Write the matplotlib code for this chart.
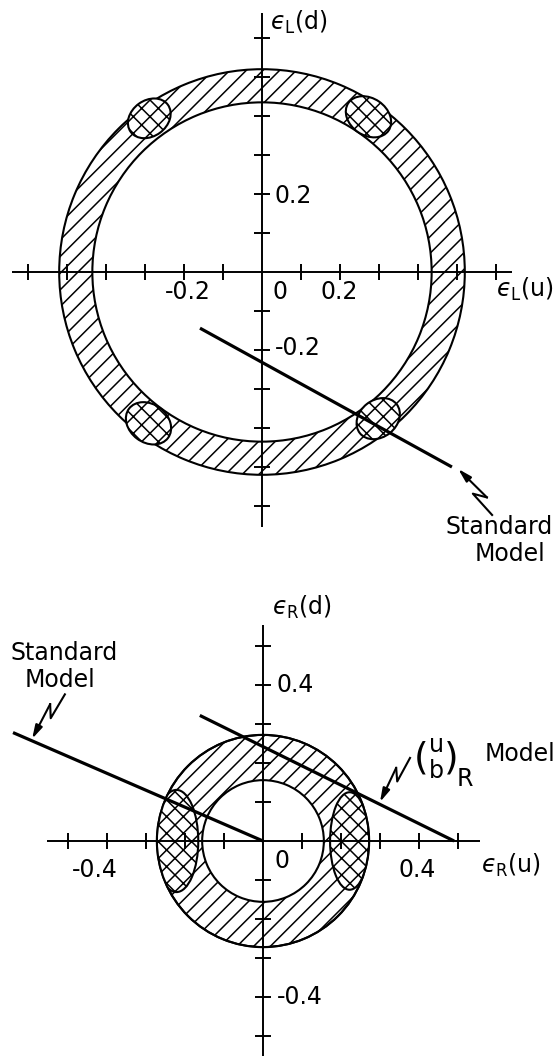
import numpy as np
import matplotlib
matplotlib.use('Agg')
import matplotlib.pyplot as plt
from matplotlib.patches import Wedge, Ellipse, Circle

plt.rcParams['font.family'] = ['DejaVu Sans']
plt.rcParams['mathtext.fontset'] = 'dejavusans'
plt.rcParams['hatch.linewidth'] = 1.1

# --- 上图: eps_L(u) / eps_L(d) ---
L_ring = [0.435, 0.52]                      # 内半径, 外半径
L_ticks_x = [-0.6, -0.5, -0.4, -0.3, -0.2, -0.1, 0.1, 0.2, 0.3, 0.4, 0.5, 0.6]
L_ticks_y = [-0.6, -0.5, -0.4, -0.3, -0.2, -0.1, 0.1, 0.2, 0.3, 0.4, 0.5, 0.6]
L_blob_x = [-0.289, 0.273, -0.291, 0.298]
L_blob_y = [0.394, 0.398, -0.388, -0.376]
L_blob_rad = [0.092, 0.095, 0.098, 0.095]   # 径向宽度
L_blob_tan = [0.118, 0.125, 0.125, 0.12]    # 切向长度
L_sm_x = [-0.159, 0.487]                    # Standard Model 直线
L_sm_y = [-0.144, -0.500]
L_xlabels = ['-0.2', '0', '0.2']
L_ylabels = ['0.2', '-0.2']

# --- 下图: eps_R(u) / eps_R(d) ---
R_ring = [0.156, 0.272]
R_ticks_x = [-0.5, -0.4, -0.3, -0.2, -0.1, 0.1, 0.2, 0.3, 0.4, 0.5]
R_ticks_y = [-0.5, -0.4, -0.3, -0.2, -0.1, 0.1, 0.2, 0.3, 0.4, 0.5]
R_blob_x = [-0.222, 0.222]
R_blob_y = [0.0, 0.0]
R_blob_w = [0.112, 0.100]
R_blob_h = [0.262, 0.250]
R_sm_x = [-0.641, 0.0]                      # Standard Model 直线
R_sm_y = [0.278, 0.0]
R_ub_x = [-0.162, 0.490]                    # (u b)_R Model 直线
R_ub_y = [0.322, 0.0]
R_xlabels = ['-0.4', '0', '0.4']
R_ylabels = ['0.4', '-0.4']

FS = 17
EPS = '\u03f5'   # 月牙形 epsilon


def draw_cross(ax, xext, yext, xt, yt):
    ax.plot(xext, [0, 0], color='k', lw=1.4, zorder=5, solid_capstyle='butt')
    ax.plot([0, 0], yext, color='k', lw=1.4, zorder=5, solid_capstyle='butt')
    ax.plot(xt, np.zeros(len(xt)), ls='none', marker='|', ms=12, mew=1.4, color='k', zorder=5)
    ax.plot(np.zeros(len(yt)), yt, ls='none', marker='_', ms=12, mew=1.4, color='k', zorder=5)


def draw_ring(ax, r_in, r_out):
    ring = Wedge((0, 0), r_out, 0, 360, width=r_out - r_in, facecolor='white',
                 edgecolor='k', hatch='//', lw=1.5, zorder=2)
    ax.add_patch(ring)
    return ring


def squiggle(ax, start, tip):
    start, tip = np.array(start), np.array(tip)
    d = tip - start
    L = np.hypot(*d)
    u = d / L
    n = np.array([u[1], -u[0]])
    p1 = start + 0.5 * d - n * 0.05 * L
    p2 = start + 0.3 * d + n * 0.11 * L
    ax.plot([start[0], p1[0], p2[0]], [start[1], p1[1], p2[1]], color='k', lw=1.5,
            solid_joinstyle='round', zorder=6)
    ax.annotate('', xy=tip, xytext=p2,
                arrowprops=dict(arrowstyle='-|>,head_length=0.8,head_width=0.22', lw=1.5,
                                color='k', shrinkA=0, shrinkB=0), zorder=6)


def eps_label(ax, x, y, sub, arg):
    ax.text(x, y, '$' + EPS + '_{\\mathrm{' + sub + '}}$(' + arg + ')', fontsize=FS,
            ha='left', va='center')


fig = plt.figure(figsize=(5.58, 10.56), dpi=100)

# 上图坐标: 原点在 (262, 272) px, 390 px 对应 1.0
ax1 = fig.add_axes([0, 496 / 1056, 1, 560 / 1056])
ax1.set_xlim(-262 / 390, 296 / 390)
ax1.set_ylim(-288 / 390, 272 / 390)
ax1.axis('off')

draw_ring(ax1, *L_ring)
for x, y, wr, wt in zip(L_blob_x, L_blob_y, L_blob_rad, L_blob_tan):
    ang = np.degrees(np.arctan2(y, x))
    ax1.add_patch(Ellipse((x, y), wr, wt, angle=ang, facecolor='white', edgecolor='k',
                          hatch='xx', lw=1.5, zorder=3))
draw_cross(ax1, [-0.64, 0.64], [-0.655, 0.665], L_ticks_x, L_ticks_y)
ax1.plot(L_sm_x, L_sm_y, color='k', lw=2.3, zorder=6, solid_capstyle='butt')
squiggle(ax1, (0.590, -0.623), (0.503, -0.505))

eps_label(ax1, 0.02, 0.64, 'L', 'd')
eps_label(ax1, 0.60, -0.045, 'L', 'u')
for s, x in zip(L_xlabels, [-0.19, 0.045, 0.198]):
    ax1.text(x, -0.051, s, fontsize=FS, ha='center', va='center')
for s, y in zip(L_ylabels, [0.195, -0.195]):
    ax1.text(0.032, y, s, fontsize=FS, ha='left', va='center')
ax1.text(0.607, -0.654, 'Standard', fontsize=FS, ha='center', va='center')
ax1.text(0.636, -0.722, 'Model', fontsize=FS, ha='center', va='center')

# 下图坐标: 原点在 (263, 841) px
ax2 = fig.add_axes([0, 0, 1, 496 / 1056])
ax2.set_xlim(-263 / 390, 295 / 390)
ax2.set_ylim(-215 / 390, 281 / 390)
ax2.axis('off')

draw_ring(ax2, *R_ring)
clip = Circle((0, 0), R_ring[1], transform=ax2.transData)
for x, y, w, h in zip(R_blob_x, R_blob_y, R_blob_w, R_blob_h):
    e = Ellipse((x, y), w, h, facecolor='white', edgecolor='k', hatch='xx', lw=1.5, zorder=3)
    ax2.add_patch(e)
    e.set_clip_path(clip)
ax2.add_patch(Circle((0, 0), R_ring[1], fill=False, edgecolor='k', lw=1.5, zorder=4))
draw_cross(ax2, [-0.553, 0.556], [-0.56, 0.553], R_ticks_x, R_ticks_y)
ax2.plot(R_sm_x, R_sm_y, color='k', lw=2.3, zorder=6, solid_capstyle='butt')
ax2.plot(R_ub_x, R_ub_y, color='k', lw=2.3, zorder=6, solid_capstyle='butt')
squiggle(ax2, (-0.508, 0.376), (-0.592, 0.262))
squiggle(ax2, (0.377, 0.213), (0.300, 0.100))

eps_label(ax2, 0.022, 0.60, 'R', 'd')
eps_label(ax2, 0.558, -0.062, 'R', 'u')
for s, x in zip(R_xlabels, [-0.432, 0.05, 0.396]):
    ax2.text(x, -0.074 if s != '0' else -0.05, s, fontsize=FS, ha='center', va='center')
for s, y in zip(R_ylabels, [0.40, -0.40]):
    ax2.text(0.035, y, s, fontsize=FS, ha='left', va='center')
ax2.text(-0.51, 0.482, 'Standard', fontsize=FS, ha='center', va='center')
ax2.text(-0.52, 0.412, 'Model', fontsize=FS, ha='center', va='center')

# (u b)_R 标签: 括号 + 上下两行 + 下标
ax2.text(0.405, 0.212, '(', fontsize=27, ha='center', va='center')
ax2.text(0.483, 0.212, ')', fontsize=27, ha='center', va='center')
ax2.text(0.444, 0.246, 'u', fontsize=FS, ha='center', va='center')
ax2.text(0.444, 0.180, 'b', fontsize=FS, ha='center', va='center')
ax2.text(0.518, 0.160, 'R', fontsize=FS, ha='center', va='center')
ax2.text(0.66, 0.222, 'Model', fontsize=FS, ha='center', va='center')

fig.savefig('out.png', dpi=100, facecolor='white')
